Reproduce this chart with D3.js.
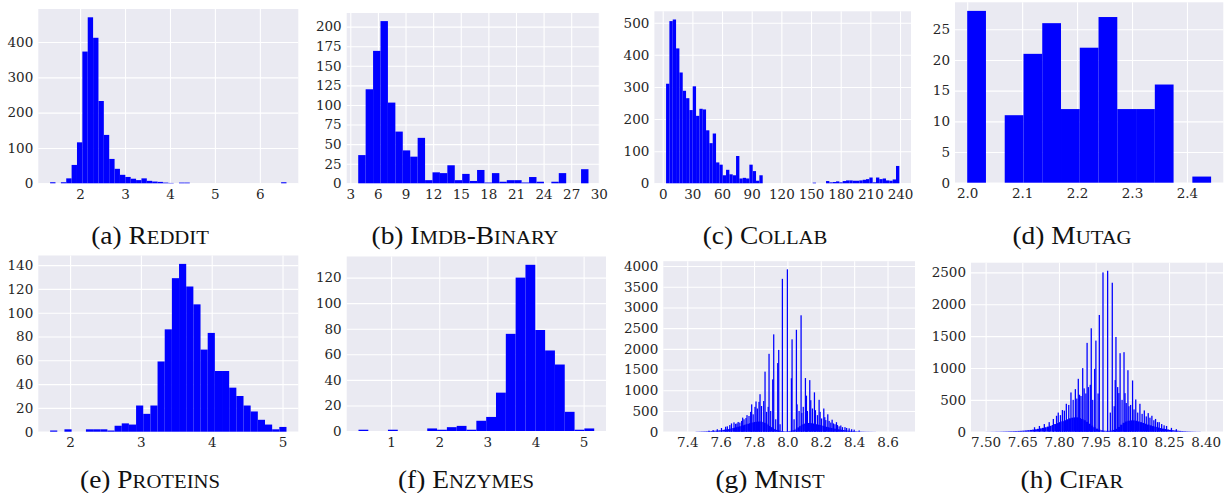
<!DOCTYPE html>
<html><head><meta charset="utf-8">
<script src="https://cdn.jsdelivr.net/npm/d3@7"></script>
<style>body{margin:0;background:#fff}svg{display:block}</style>
</head><body>
<svg id="c" width="1228" height="493"></svg>
<script>
// ---------------- DATA ----------------
const captions = ["(a) Reddit","(b) Imdb-Binary","(c) Collab","(d) Mutag","(e) Proteins","(f) Enzymes","(g) Mnist","(h) Cifar"];

const redditStart = 1.333, redditWidth = 0.11955;
const redditCounts = [3,0,3,14,52,116,373,470,412,233,137,69,41,24,18,13,9,14,7,5,4,2,1,0,2,2,0,0,0,0,0,0,0,0,0,0,0,0,0,0,0,0,0,3];
const redditXTicks = [2,3,4,5,6];
const redditYTicks = [0,100,200,300,400];

const imdbStart = 3.86, imdbWidth = 0.807;
const imdbCounts = [36,120,169,207,103,66,42,34,58,4,14,13,23,4,12,3,17,1,13,2,4,4,1,8,2,0,2,13,0,0,18];
const imdbXTicks = [3,6,9,12,15,18,21,24,27,30];
const imdbYTicks = [0,25,50,75,100,125,150,175,200];

const collabStart = 3.4, collabWidth = 3.37;
const collabCounts = [310,505,510,420,345,288,265,228,302,210,232,230,165,125,155,65,58,25,42,28,25,85,15,17,15,58,38,8,25,
  0,0,0,0,0,0,0,0,0,0,0,0,0,0,0,2,0,0,0,7,3,4,6,3,7,9,9,8,8,9,11,13,18,3,18,13,15,9,8,12,54];
const collabXTicks = [0,30,60,90,120,150,180,210,240];
const collabYTicks = [0,100,200,300,400,500];

const mutagStart = 2.0, mutagWidth = 0.03415;
const mutagCounts = [28,0,11,21,26,12,22,27,12,12,16,0,1];
const mutagXTicks = [2.0,2.1,2.2,2.3,2.4];
const mutagYTicks = [0,5,10,15,20,25];

const proteinsStart = 1.718, proteinsWidth = 0.10115;
const proteinsCounts = [1,0,2,0,0,2,2,2,1,5,7,6,22,15,22,59,86,129,141,122,107,69,83,51,51,37,30,22,17,10,6,2,4];
const proteinsXTicks = [2,3,4,5];
const proteinsYTicks = [0,20,40,60,80,100,120,140];

const enzymesStart = 0.322, enzymesWidth = 0.2041;
const enzymesCounts = [1,0,0,1,0,0,0,2,1,3,4,1,8,11,30,76,120,130,79,63,52,15,1,2];
const enzymesXTicks = [1,2,3,4,5];
const enzymesYTicks = [0,20,40,60,80,100,120];

const mnistRange = [7.325, 8.696];
const mnistBaseStart = 7.45, mnistBaseWidth = 0.01;
const mnistBase = [4,5,6,8,9,10,12,13,15,17, 20,23,26,30,34,38,44,50,56,62,
  70,78,88,98,108,120,130,142,155,168, 180,192,205,215,225,235,240,245,245,240,
  232,215,195,170,140,110,85,62,45,35, 25,18,15,12,12,14,18,25,35,50,
  75,105,135,160,180,195,205,210,210,205, 198,190,180,170,160,150,140,128,118,108,
  98,90,82,74,66,58,52,46,40,35, 30,26,22,19,16,13,11,9,8,7, 6,5,4,4,3,3,2,2];
const mnistSpikeWidth = 0.0075;
const mnistSpikes = [[7.530,25],[7.555,40],[7.580,60],[7.605,90],[7.630,120],[7.640,130],[7.655,160],[7.665,200],[7.680,225],[7.690,190],
  [7.698,200],[7.705,235],[7.715,220],[7.726,260],[7.732,340],[7.740,300],[7.752,330],[7.758,400],[7.770,380],[7.780,480],
  [7.786,660],[7.795,420],[7.806,600],[7.812,730],[7.820,560],[7.830,720],[7.836,905],[7.845,620],[7.858,740],[7.866,1450],
  [7.875,480],[7.885,600],[7.890,1880],[7.900,500],[7.912,1263],[7.918,2350],[7.930,300],[7.942,1657],[7.948,1975],[7.956,180],
  [7.970,3690],[8.000,3920],[8.024,1290],[8.028,2230],[8.040,300],[8.054,2460],[8.058,660],[8.070,500],[8.082,2810],[8.086,450],
  [8.095,600],[8.108,1295],[8.114,870],[8.120,500],[8.134,1245],[8.140,760],[8.150,560],[8.162,950],[8.168,520],[8.180,400],
  [8.190,770],[8.196,480],[8.205,320],[8.218,560],[8.224,350],[8.230,280],[8.242,420],[8.250,260],[8.260,220],[8.268,290],
  [8.276,200],[8.285,180],[8.294,230],[8.300,160],[8.310,130],[8.320,150],[8.330,110],[8.345,110],[8.355,90],[8.370,80],
  [8.385,60],[8.400,50],[8.430,30]];
const mnistXTicks = [7.4,7.6,7.8,8.0,8.2,8.4,8.6];
const mnistYTicks = [0,500,1000,1500,2000,2500,3000,3500,4000];

const cifarRange = [7.487, 8.424];
const cifarBaseStart = 7.50, cifarBaseWidth = 0.01;
const cifarBase = [1,1,2,2,3,3,4,5,6,7, 8,9,10,12,14,17,20,24,28,33,
  38,45,52,60,70,80,92,105,120,135, 150,165,180,195,210,220,225,225,215,200,
  180,155,125,95,70,48,32,22,16,14, 14,18,28,45,75,110,140,160,172,178,
  178,172,162,150,138,125,112,100,88,76, 66,57,49,42,35,29,24,20,16,13, 10,8,6,5,4,3,2,2];
const cifarSpikeWidth = 0.0052;
const cifarSpikes = [[7.700,70],[7.720,90],[7.740,120],[7.760,150],[7.777,200],[7.790,250],[7.797,300],[7.806,260],[7.814,340],[7.822,330],
  [7.830,438],[7.840,420],[7.849,616],[7.858,500],[7.867,668],[7.873,520],[7.879,830],[7.884,580],[7.890,560],[7.897,997],
  [7.903,680],[7.910,600],[7.915,1394],[7.920,700],[7.928,736],[7.932,1623],[7.938,500],[7.946,986],[7.951,1430],[7.960,600],
  [7.965,1832],[7.980,2500],[7.999,2526],[8.010,300],[8.018,2338],[8.026,400],[8.030,810],[8.033,1487],[8.040,700],[8.045,606],
  [8.050,1232],[8.058,500],[8.066,1248],[8.070,605],[8.075,450],[8.082,965],[8.086,400],[8.093,420],[8.101,804],[8.107,350],
  [8.114,506],[8.122,300],[8.131,438],[8.140,280],[8.149,334],[8.157,240],[8.165,292],[8.172,220],[8.180,250],[8.188,180],
  [8.195,200],[8.203,150],[8.210,150],[8.220,120],[8.230,100],[8.240,90],[8.260,60],[8.280,40]];
const cifarXTicks = [7.50,7.65,7.80,7.95,8.10,8.25,8.40];
const cifarYTicks = [0,500,1000,1500,2000,2500];

// ---------------- LAYOUT ----------------
const svg = d3.select("#c");
const BG = "#EAEAF2", BAR = "#0000ff", TXT = "#262626";
const TICKFONT = "'DejaVu Serif','Liberation Serif',serif";

function binsFrom(start, width, counts){
  return counts.map((n,i)=>({x0:start+i*width, x1:start+(i+1)*width, n}));
}
function spikesFrom(list, w){
  return list.map(([c,n])=>({x0:c-w/2, x1:c+w/2, n}));
}

const panels = [
  {rect:[38.3,9,298.3,183.3], bins:binsFrom(redditStart,redditWidth,redditCounts), xt:redditXTicks, yt:redditYTicks, fmt:d3.format("d"), cap:[150,243.5]},
  {rect:[346.7,13,600,183.3], bins:binsFrom(imdbStart,imdbWidth,imdbCounts), xt:imdbXTicks, yt:imdbYTicks, fmt:d3.format("d"), cap:[465,243.5]},
  {rect:[654.4,11.3,911,183.3], bins:binsFrom(collabStart,collabWidth,collabCounts), xt:collabXTicks, yt:collabYTicks, fmt:d3.format("d"), cap:[765,243.5]},
  {rect:[955,2.3,1223.3,182.7], bins:binsFrom(mutagStart,mutagWidth,mutagCounts), xt:mutagXTicks, yt:mutagYTicks, fmt:d3.format(".1f"), cap:[1072,243.5]},
  {rect:[38.3,255.5,298.3,431.7], bins:binsFrom(proteinsStart,proteinsWidth,proteinsCounts), xt:proteinsXTicks, yt:proteinsYTicks, fmt:d3.format("d"), cap:[150,487.5]},
  {rect:[346.7,256.5,606,431], bins:binsFrom(enzymesStart,enzymesWidth,enzymesCounts), xt:enzymesXTicks, yt:enzymesYTicks, fmt:d3.format("d"), cap:[466,487.5]},
  {rect:[663.3,261.2,915,431.7], bins:binsFrom(mnistBaseStart,mnistBaseWidth,mnistBase), spikes:spikesFrom(mnistSpikes,mnistSpikeWidth), range:mnistRange, xt:mnistXTicks, yt:mnistYTicks, fmt:d3.format(".1f"), cap:[770,487.5]},
  {rect:[971,262.7,1223,431.7], bins:binsFrom(cifarBaseStart,cifarBaseWidth,cifarBase), spikes:spikesFrom(cifarSpikes,cifarSpikeWidth), range:cifarRange, xt:cifarXTicks, yt:cifarYTicks, fmt:d3.format(".2f"), cap:[1072,487.5]}
];

panels.forEach((p,pi)=>{
  const [L,T,R,B] = p.rect;
  const lo = p.range ? p.range[0] : p.bins[0].x0;
  const hi = p.range ? p.range[1] : p.bins[p.bins.length-1].x1;
  const pad = (hi-lo)*0.05;
  const x = d3.scaleLinear().domain([lo-pad, hi+pad]).range([L,R]);
  const all = p.spikes ? p.bins.concat(p.spikes) : p.bins;
  const maxN = d3.max(all, d=>d.n);
  const y = d3.scaleLinear().domain([0, maxN*1.05]).range([B,T]);
  const g = svg.append("g");
  g.append("rect").attr("x",L).attr("y",T).attr("width",R-L).attr("height",B-T).attr("fill",BG);

  const xa = g.append("g").attr("transform",`translate(0,${B})`)
    .call(d3.axisBottom(x).tickValues(p.xt).tickFormat(p.fmt).tickSize(-(B-T)).tickPadding(6));
  const ya = g.append("g").attr("transform",`translate(${L},0)`)
    .call(d3.axisLeft(y).tickValues(p.yt).tickFormat(d3.format("d")).tickSize(-(R-L)).tickPadding(5));
  [xa,ya].forEach(a=>{
    a.attr("font-family",null).attr("font-size",null);
    a.select(".domain").remove();
    a.selectAll("line").attr("stroke","#fff").attr("stroke-width",1.1);
    a.selectAll("text").attr("fill",TXT).style("font-family",TICKFONT).style("font-size","13.5px");
  });

  g.append("g").selectAll("rect").data(all.filter(d=>d.n>0)).join("rect")
    .attr("x", d=>x(d.x0)).attr("width", d=>Math.max(0.5, x(d.x1)-x(d.x0)))
    .attr("y", d=>y(d.n)).attr("height", d=>y(0)-y(d.n))
    .attr("fill", BAR);

  // caption with small caps (Computer-Modern-like width via slight horizontal stretch)
  const cg = svg.append("g").attr("transform",`translate(${p.cap[0]},${p.cap[1]}) scale(1.12,1)`);
  const t = cg.append("text").attr("x",0).attr("y",0).attr("text-anchor","middle")
    .style("font-family","'Liberation Serif', serif").style("font-size","24.5px")
    .attr("fill","#111");
  const cap = captions[pi];
  const sp = cap.indexOf(" ");
  t.append("tspan").text(cap.slice(0,sp+1));
  const word = cap.slice(sp+1);
  let runs = [];
  for (const ch of word){
    const small = ch !== ch.toUpperCase();
    if (runs.length && runs[runs.length-1].small===small) runs[runs.length-1].s += ch;
    else runs.push({small, s:ch});
  }
  runs.forEach(r=>{
    t.append("tspan").style("font-size", r.small ? "18.5px" : "24.5px").text(r.s.toUpperCase());
  });
});
</script>
</body></html>
